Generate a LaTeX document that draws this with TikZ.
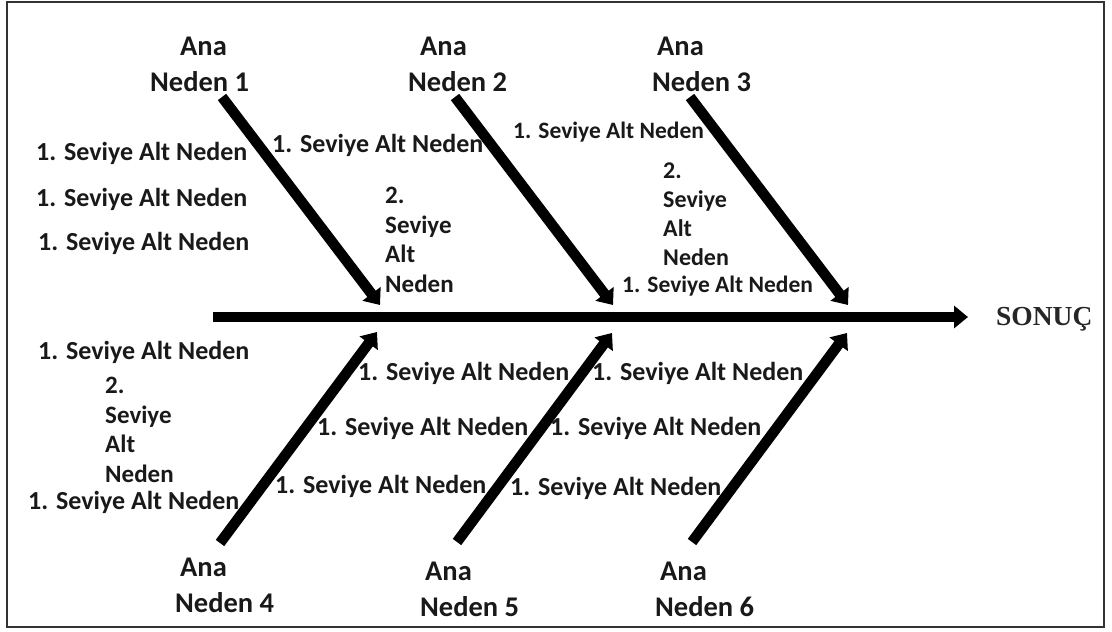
\documentclass[tikz,border=0pt]{standalone}
\usepackage{fontspec}
\setmainfont{Carlito}
\newfontfamily\serifbold{Liberation Serif}
\usetikzlibrary{arrows.meta}
\begin{document}
\begin{tikzpicture}[x=1pt,y=-1pt,
  sub/.style={anchor=west,inner sep=0pt,text=black!90,font=\fontsize{26}{30}\selectfont\bfseries},
  subs/.style={sub,font=\fontsize{23.5}{28}\selectfont\bfseries},
  stack/.style={anchor=north west,inner sep=0pt,align=left,text=black!90,font=\fontsize{25}{29.5}\selectfont\bfseries},
  ana/.style={anchor=north west,inner sep=0pt,align=left,text=black!90,font=\fontsize{28.5}{35.5}\selectfont\bfseries},
  bone/.style={line width=10.5pt,-{Triangle[length=14pt,width=22pt]}},
]
\useasboundingbox (0,0) rectangle (1112,632);
\fill[white] (0,0) rectangle (1112,632);
\draw[black!80,line width=1.3pt] (7,2) rectangle (1104,627);

% spine
\node[anchor=west,inner sep=0pt,text=black!85,font=\serifbold\bfseries\fontsize{27.5}{30}\selectfont] (sonuc) at (996,319) {SONUÇ};
\coordinate (tail) at (213,317);
\coordinate (head) at (968,317);
\draw[bone] (tail) -- (head);

% main causes
\node[ana] (an1) at (150,37) {\hspace*{30pt}Ana\\Neden 1};
\node[ana] (an2) at (408,37) {\hspace*{12pt}Ana\\Neden 2};
\node[ana] (an3) at (652,37) {\hspace*{5pt}Ana\\Neden 3};
\node[ana] (an4) at (175,558) {\hspace*{5pt}Ana\\Neden 4};
\node[ana] (an5) at (420,562) {\hspace*{5pt}Ana\\Neden 5};
\node[ana] (an6) at (655,562) {\hspace*{5pt}Ana\\Neden 6};

\coordinate (s1) at (222,97);  \coordinate (e1) at (380,305);
\coordinate (s2) at (455,97);  \coordinate (e2) at (613,305);
\coordinate (s3) at (690,97);  \coordinate (e3) at (848,305);
\coordinate (s4) at (220,543); \coordinate (e4) at (377,332);
\coordinate (s5) at (457,542); \coordinate (e5) at (612,333);
\coordinate (s6) at (692,542); \coordinate (e6) at (847,333);
\foreach \i in {1,...,6} \draw[bone] (s\i) -- (e\i);

% sub causes, top
\node[sub] (t1) at (36,153) {1. Seviye Alt Neden};
\node[sub] (t2) at (36,199) {1. Seviye Alt Neden};
\node[sub] (t3) at (38,243) {1. Seviye Alt Neden};
\node[sub] (t4) at (272,145) {1. Seviye Alt Neden};
\node[stack] (t5) at (385,187) {2.\\Seviye\\Alt\\Neden};
\node[subs] (t6) at (513,132) {1. Seviye Alt Neden};
\node[stack,font=\fontsize{24}{28.7}\selectfont\bfseries] (t7) at (663,163) {2.\\Seviye\\Alt\\Neden};
\node[subs] (t8) at (622,286) {1. Seviye Alt Neden};

% sub causes, bottom
\node[sub] (b1) at (38,352) {1. Seviye Alt Neden};
\node[stack] (b2) at (105,377) {2.\\Seviye\\Alt\\Neden};
\node[sub] (b3) at (28,502) {1. Seviye Alt Neden};
\node[sub] (b4) at (358,373) {1. Seviye Alt Neden};
\node[sub] (b5) at (317,428) {1. Seviye Alt Neden};
\node[sub] (b6) at (275,486) {1. Seviye Alt Neden};
\node[sub] (b7) at (592,373) {1. Seviye Alt Neden};
\node[sub] (b8) at (550,428) {1. Seviye Alt Neden};
\node[sub] (b9) at (510,488) {1. Seviye Alt Neden};
\end{tikzpicture}
\end{document}
